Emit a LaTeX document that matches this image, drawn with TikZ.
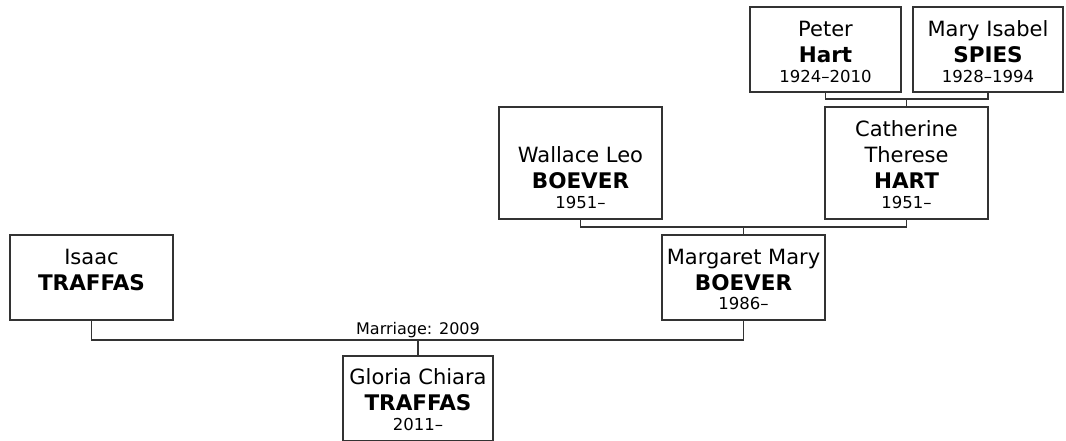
\documentclass[tikz,border=0pt]{standalone}
\usepackage{fontspec}
\setmainfont{DejaVu Sans}
\begin{document}
\begin{tikzpicture}[x=1pt,y=-1pt,
  pbox/.style={draw=black!80, line width=1.3pt, fill=white, inner sep=0pt, rectangle},
  conn/.style={draw=black!80, line width=1.3pt},
  nm/.style={anchor=base, inner sep=0pt, font=\fontsize{21}{24}\selectfont},
  sn/.style={anchor=base, inner sep=0pt, font=\fontsize{21.5}{24}\selectfont\bfseries},
  dt/.style={anchor=base, inner sep=0pt, font=\fontsize{16.5}{19}\selectfont},
  lbl/.style={anchor=base, inner sep=0pt, font=\fontsize{16}{19}\selectfont}]
\useasboundingbox (0,0) rectangle (1066,440);
\fill[white] (0,0) rectangle (1066,440);

% boxes
\node[pbox, minimum width=151pt, minimum height=85pt] (peter) at (825.5,49.5) {};
\node[pbox, minimum width=150pt, minimum height=85pt] (mary) at (988,49.5) {};
\node[pbox, minimum width=163pt, minimum height=112pt] (cath) at (906.5,163) {};
\node[pbox, minimum width=163pt, minimum height=112pt] (wall) at (580.5,163) {};
\node[pbox, minimum width=163pt, minimum height=85pt] (marg) at (743.5,277.5) {};
\node[pbox, minimum width=163pt, minimum height=85pt] (isaac) at (91.5,277.5) {};
\node[pbox, minimum width=150pt, minimum height=85pt] (gloria) at (418,398.5) {};

% texts
\node[nm] (peter-1) at (825.5,36) {Peter};
\node[sn] (peter-2) at (825.5,62) {Hart};
\node[dt] (peter-3) at (825.5,82) {1924–2010};

\node[nm] (mary-1) at (988,36) {Mary Isabel};
\node[sn] (mary-2) at (988,62) {SPIES};
\node[dt] (mary-3) at (988,82) {1928–1994};

\node[nm] (cath-1) at (906.5,136) {Catherine};
\node[nm] (cath-2) at (906.5,162) {Therese};
\node[sn] (cath-3) at (906.5,188) {HART};
\node[dt] (cath-4) at (906.5,208) {1951–};

\node[nm] (wall-1) at (580.5,162) {Wallace Leo};
\node[sn] (wall-2) at (580.5,188) {BOEVER};
\node[dt] (wall-3) at (580.5,208) {1951–};

\node[nm] (marg-1) at (743.5,264) {Margaret Mary};
\node[sn] (marg-2) at (743.5,290) {BOEVER};
\node[dt] (marg-3) at (743.5,309) {1986–};

\node[nm] (isaac-1) at (91.5,264) {Isaac};
\node[sn] (isaac-2) at (91.5,290) {TRAFFAS};

\node[nm] (gloria-1) at (418,384) {Gloria Chiara};
\node[sn] (gloria-2) at (418,410) {TRAFFAS};
\node[dt] (gloria-3) at (418,430) {2011–};

% connectors
\coordinate (j1) at (906.5,99);
\coordinate (j2) at (743.5,227);
\coordinate (j3) at (418,340);
\draw[conn] (peter.south) |- (j1) -| (mary.south);
\draw[conn] (j1) -- (j1 |- cath.north);
\draw[conn] (wall.south) |- (j2) -| (cath.south);
\draw[conn] (j2) -- (j2 |- marg.north);
\draw[conn] (isaac.south) |- (j3) -| (marg.south);
\draw[conn] (j3) -- (j3 |- gloria.north);
\node[lbl] (marr) at (418,334.5) {Marriage: 2009};
\end{tikzpicture}
\end{document}
